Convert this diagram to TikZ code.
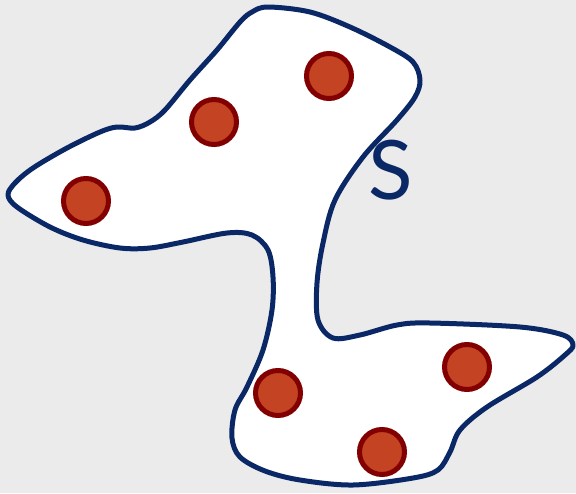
\documentclass[tikz,border=0pt]{standalone}
\usepackage{fontspec}
\newfontfamily\labelfont{Lato}
\definecolor{bg}{HTML}{EBEBEB}
\definecolor{navy}{HTML}{0A2766}
\definecolor{dotfill}{HTML}{C44322}
\definecolor{dotedge}{HTML}{820000}
\tikzset{
  blob/.style={draw=navy, line width=5pt, fill=white, line join=round},
  pt/.style={circle, draw=dotedge, fill=dotfill, line width=5pt, minimum size=45pt, inner sep=0pt},
  lbl/.style={text=navy, font=\labelfont\fontsize{82pt}{82pt}\selectfont, inner sep=0pt}
}
\begin{document}
\begin{tikzpicture}[x=1pt,y=-1pt]
\fill[bg] (0,0) rectangle (576,493);
\useasboundingbox (0,0) rectangle (576,493);
\draw[blob] plot[smooth cycle, tension=0.55] coordinates {
(268,7) (310,12) (350,27) (390,47) (413,62) (420,80) (415,97) (397,120) (363,157) (335,200) (323,243) (317,283) (318,320) (333,338) (360,335) (397,325) (430,323) (520,327) (563,335) (573,345) (565,355) (537,377) (487,407) (460,430) (450,452) (438,470) (413,478) (353,485) (300,480) (265,471) (240,457) (232,438) (235,410) (247,387) (263,350) (272,310) (273,277) (268,250) (252,235) (227,233) (183,242) (150,248) (120,248) (83,240) (50,227) (17,207) (8,195) (15,183) (33,168) (67,148) (100,132) (117,127) (135,128) (150,122) (165,110) (190,80) (217,50) (240,22) (252,12)};
\node[pt] (p1) at (329,76) {};
\node[pt] (p2) at (214,122) {};
\node[pt] (p3) at (86,201) {};
\node[pt] (p4) at (278,393) {};
\node[pt] (p5) at (467,367) {};
\node[pt] (p6) at (382,452) {};
\node[lbl] (s) at (391,170) {S};
\end{tikzpicture}
\end{document}
